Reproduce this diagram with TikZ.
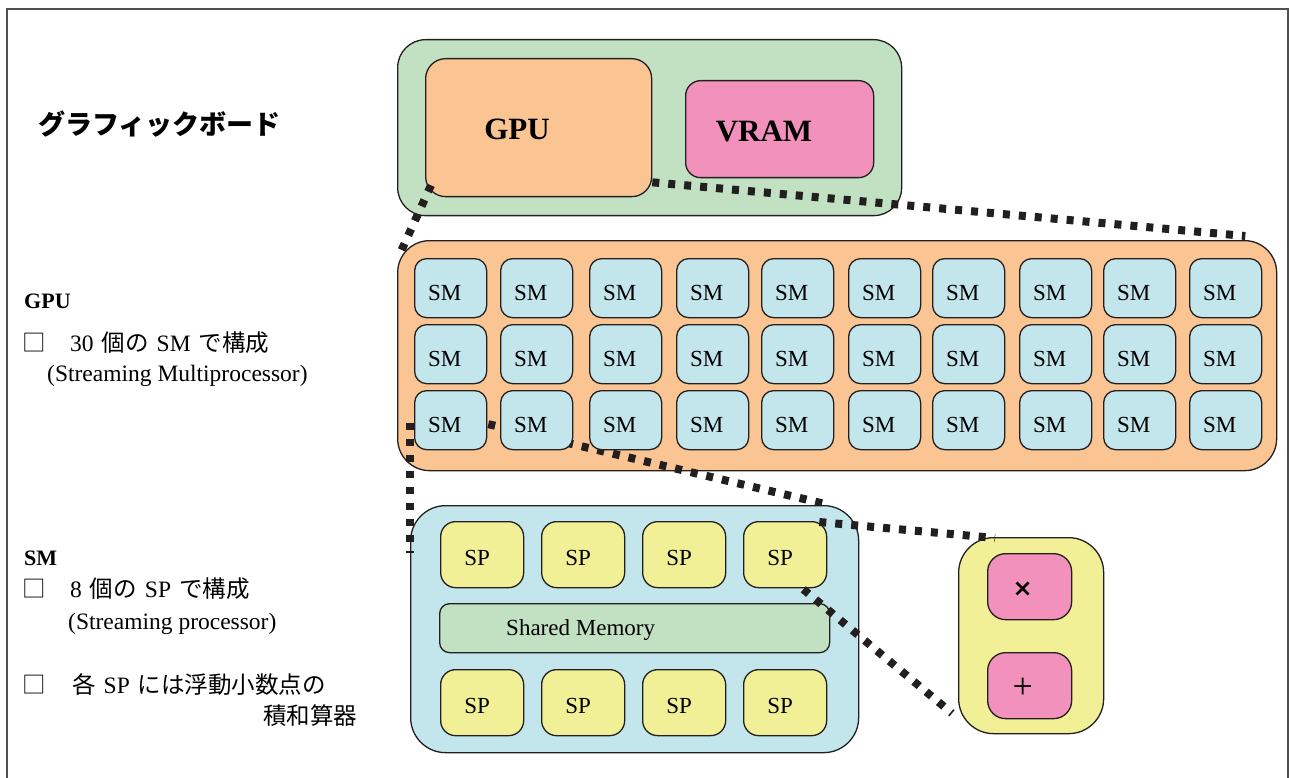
\documentclass[tikz,border=0pt]{standalone}
\usepackage{fontspec}
\setmainfont{Liberation Serif}
\newfontfamily\jp{Noto Sans CJK JP}
\newfontfamily\symfont{DejaVu Sans}
\usetikzlibrary{calc}

\definecolor{boardgreen}{RGB}{194,224,194}
\definecolor{gpuorange}{RGB}{251,197,147}
\definecolor{vrampink}{RGB}{241,145,188}
\definecolor{smcyan}{RGB}{195,230,236}
\definecolor{spyellow}{RGB}{242,240,150}
\definecolor{edge}{RGB}{35,31,32}
\definecolor{framegray}{RGB}{80,80,80}

\newcommand\setfs[1]{\fontsize{#1}{#1}\selectfont}
\newcommand\unitfont{\setfs{23}}
\newcommand\sidefont{\setfs{23.5}}
% gap between Latin and Japanese runs
\newcommand\jg{\hspace{8pt}}

\pgfdeclarelayer{back}
\pgfdeclarelayer{mid}
\pgfsetlayers{back,mid,main}

\begin{document}
\begin{tikzpicture}[x=1pt,y=-1pt,
  box/.style={draw=edge, line width=1.3pt, inner sep=0pt, anchor=north west},
  zoomline/.style={draw=edge, line width=8pt, dash pattern=on 7pt off 9pt},
  smbox/.style={box, fill=smcyan, rounded corners=12pt, minimum width=72pt, minimum height=59pt,
    label={[font=\unitfont, xshift=-6pt, yshift=-5pt]center:SM}},
  spbox/.style={box, fill=spyellow, rounded corners=15pt, minimum width=83pt, minimum height=66pt,
    label={[font=\unitfont, xshift=-5pt, yshift=-3pt]center:SP}},
  opbox/.style={box, fill=vrampink, rounded corners=18pt, minimum width=84pt, minimum height=66pt},
  side/.style={anchor=base west, inner sep=0pt, font=\sidefont},
]
\useasboundingbox (0,0) rectangle (1290,778);

% outer frame
\draw[framegray, line width=1.6pt] (7,800) -- (7,9) -- (1288,9) -- (1288,800);

% ---------------- graphics board ----------------
\node[box, fill=boardgreen, rounded corners=28pt, minimum width=504pt, minimum height=176pt] (board) at (397,39) {};
\node[box, fill=gpuorange, rounded corners=20pt, minimum width=226pt, minimum height=138pt] (gpu) at (425,58) {};
\node[box, fill=vrampink, rounded corners=15pt, minimum width=188pt, minimum height=97pt] (vram) at (685,80) {};
\node[font=\setfs{31}\bfseries] (gpulabel) at (517,129) {GPU};
\node[font=\setfs{31}\bfseries] (vramlabel) at (764,132) {VRAM};

% ---------------- GPU: 30 SMs ----------------
\begin{pgfonlayer}{back}
\node[box, fill=gpuorange, rounded corners=32pt, minimum width=879pt, minimum height=230pt] (gpuarr) at (397,240) {};
\end{pgfonlayer}

\foreach \x [count=\c] in {414,500,589,676,761,848,932,1019,1103,1189} {
  \foreach \y [count=\r] in {258,324,390} {
    \node[smbox] (sm-\r-\c) at (\x,\y) {};
  }
}

% ---------------- SM: 8 SPs + shared memory ----------------
\node[box, fill=smcyan, rounded corners=35pt, minimum width=448pt, minimum height=247pt] (smd) at (410,505) {};
\foreach \x [count=\c] in {440,541,642,743} {
  \node[spbox] (sp-1-\c) at (\x,521) {};
  \node[spbox] (sp-2-\c) at (\x,669) {};
}
\node[box, fill=boardgreen, rounded corners=10pt, minimum width=390pt, minimum height=49pt,
  label={[font=\unitfont, xshift=-54pt, yshift=-2pt]center:Shared Memory}] (shmem) at (439,603) {};

% ---------------- SP: multiply-add unit ----------------
\node[box, fill=spyellow, rounded corners=35pt, minimum width=145pt, minimum height=196pt] (unit) at (958,537) {};
\node[opbox] (mul) at (987,553) {};
\node[opbox] (add) at (987,652) {};
\node[font=\setfs{24}\symfont\bfseries] (mulsign) at ([shift={(-7,3)}]mul.center) {×};
\node[font=\setfs{36}] (addsign) at ([shift={(-7,3)}]add.center) {+};

% ---------------- zoom connectors ----------------
\draw[zoomline] ([shift={(6,-12)}]gpu.south west) -- ([shift={(1,18)}]gpuarr.north west);
\draw[zoomline] ([shift={(0,-15)}]gpu.south east) -- ([shift={(-32,-4)}]gpuarr.north east);
\draw[zoomline] ([shift={(-4,3)}]sm-3-1.west) -- ([shift={(0,48)}]smd.north west);
\begin{pgfonlayer}{mid}
\draw[zoomline] ([shift={(1,4)}]sm-3-1.east) -- ([shift={(-30,0)}]smd.north east);
\end{pgfonlayer}
\draw[zoomline] ([shift={(-8,1)}]sp-1-4.north east) -- ([shift={(37,1)}]unit.north west);
\draw[zoomline] ([shift={(-24,1)}]sp-1-4.south east) -- ([shift={(-6,-21)}]unit.south west);

% ---------------- side notes ----------------
\node[anchor=west, inner sep=0pt, font=\setfs{27}\jp\bfseries] (t-board) at (38,124) {グラフィックボード};

\node[side, font=\setfs{22}\bfseries] (t-gpu) at (24,308) {GPU};
\node[side] (b1) at (22,351) {\jp □};
\node[side] (t1) at (70,351) {30\jg{\jp 個の}\jg SM\jg{\jp で構成}};
\node[side] (t1b) at (47,381) {(Streaming Multiprocessor)};

\node[side, font=\setfs{22}\bfseries] (t-sm) at (24,565) {SM};
\node[side] (b2) at (22,597) {\jp □};
\node[side] (t2) at (70,597) {8\jg{\jp 個の}\jg SP\jg{\jp で構成}};
\node[side] (t2b) at (68,629) {(Streaming processor)};

\node[side] (b3) at (22,693) {\jp □};
\node[side] (t3) at (72,693) {{\jp 各}\jg SP\jg{\jp には浮動小数点の}};
\node[side] (t3b) at (263,724) {\jp 積和算器};
\end{tikzpicture}
\end{document}
